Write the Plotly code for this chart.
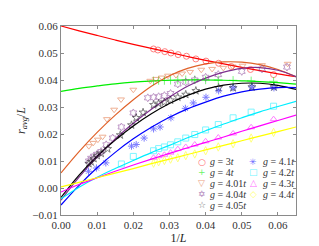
import plotly.graph_objects as go

# ---------------- data ----------------
FIT_X = [0.0, 0.005, 0.01, 0.015, 0.02, 0.025, 0.03, 0.035, 0.04, 0.045, 0.05, 0.055, 0.06, 0.065]

# g = 3t
G30_X = [0.0256, 0.0268, 0.0287, 0.0304, 0.0324, 0.0347, 0.0373, 0.0401, 0.0436, 0.0471, 0.0524, 0.0588]
G30_Y = [0.0515, 0.0511, 0.0505, 0.0500, 0.0494, 0.0488, 0.0478, 0.0470, 0.0462, 0.0450, 0.0439, 0.0420]
G30_FIT = [0.0600, 0.0582, 0.0565, 0.0548, 0.0532, 0.0517, 0.0502, 0.0487, 0.0473, 0.0460, 0.0447, 0.0435, 0.0423, 0.0412]

# g = 4t
G40_X = [0.0256, 0.0270, 0.0286, 0.0303, 0.0323, 0.0345, 0.0370, 0.0400, 0.0435, 0.0476, 0.0526, 0.0588]
G40_Y = [0.0397, 0.0398, 0.0398, 0.0399, 0.0400, 0.0401, 0.0401, 0.0400, 0.0400, 0.0399, 0.0397, 0.0395]
G40_FIT = [0.0358, 0.0369, 0.0378, 0.0386, 0.0392, 0.0396, 0.0399, 0.0400, 0.0400, 0.0399, 0.0397, 0.0394, 0.0390, 0.0385]

# g = 4.01t
G401_X = [0.0077, 0.0089, 0.0102, 0.0115, 0.0127, 0.0147, 0.0166, 0.0200, 0.0247, 0.0262, 0.0279, 0.0296,
          0.0318, 0.0335, 0.0357, 0.0388, 0.0418, 0.0449, 0.0475, 0.0502, 0.0556, 0.0627]
G401_Y = [0.0155, 0.0167, 0.0179, 0.0190, 0.0255, 0.0290, 0.0328, 0.0364, 0.0397, 0.0404, 0.0409, 0.0416,
          0.0418, 0.0424, 0.0430, 0.0438, 0.0441, 0.0445, 0.0450, 0.0453, 0.0455, 0.0460]
G401_FIT = [0.0056, 0.0135, 0.0206, 0.0270, 0.0327, 0.0377, 0.0416, 0.0443, 0.0460, 0.0467, 0.0466, 0.0457, 0.0439, 0.0412]

# g = 4.04t
G404_X = [0.0077, 0.0083, 0.0091, 0.0100, 0.0111, 0.0125, 0.0143, 0.0167, 0.0200, 0.0240, 0.0256, 0.0270,
          0.0286, 0.0303, 0.0323, 0.0345, 0.0370, 0.0400, 0.0435, 0.0500, 0.0556, 0.0625]
G404_Y = [0.0100, 0.0110, 0.0118, 0.0125, 0.0135, 0.0160, 0.0185, 0.0226, 0.0278, 0.0334, 0.0336, 0.0338,
          0.0342, 0.0350, 0.0385, 0.0392, 0.0400, 0.0410, 0.0420, 0.0432, 0.0441, 0.0448]
G404_FIT = [-0.0045, 0.0040, 0.0115, 0.0182, 0.0240, 0.0292, 0.0337, 0.0377, 0.0407, 0.0429, 0.0443, 0.0446, 0.0436, 0.0412]

# g = 4.05t
G405_X = [0.0077, 0.0083, 0.0091, 0.0100, 0.0111, 0.0129, 0.0164, 0.0195, 0.0208, 0.0227, 0.0256, 0.0270,
          0.0286, 0.0303, 0.0323, 0.0345, 0.0373, 0.0436, 0.0476, 0.0528, 0.0589]
G405_Y = [0.0090, 0.0097, 0.0109, 0.0120, 0.0128, 0.0145, 0.0196, 0.0233, 0.0260, 0.0280, 0.0308, 0.0313,
          0.0318, 0.0325, 0.0336, 0.0346, 0.0360, 0.0371, 0.0371, 0.0374, 0.0374]
G405_FIT = [-0.0035, 0.0048, 0.0118, 0.0178, 0.0230, 0.0275, 0.0313, 0.0343, 0.0366, 0.0381, 0.0388, 0.0388, 0.0380, 0.0365]

# g = 4.1t
G41_X = [0.0076, 0.0098, 0.0124, 0.0195, 0.0208, 0.0230, 0.0256, 0.0274, 0.0304, 0.0344, 0.0366, 0.0401,
         0.0436, 0.0476, 0.0528, 0.0589]
G41_Y = [0.0062, 0.0074, 0.0093, 0.0155, 0.0161, 0.0185, 0.0219, 0.0226, 0.0260, 0.0295, 0.0315, 0.0336,
         0.0360, 0.0371, 0.0374, 0.0371]
G41_FIT = [-0.0063, 0.0010, 0.0075, 0.0132, 0.0182, 0.0225, 0.0262, 0.0293, 0.0318, 0.0340, 0.0356, 0.0366, 0.0372, 0.0372]

# g = 4.2t
G42_X = [0.0167, 0.0200, 0.0256, 0.0270, 0.0286, 0.0303, 0.0323, 0.0345, 0.0370, 0.0400, 0.0435, 0.0476, 0.0526, 0.0588]
G42_Y = [0.0089, 0.0117, 0.0138, 0.0146, 0.0152, 0.0160, 0.0171, 0.0185, 0.0198, 0.0215, 0.0235, 0.0260, 0.0281, 0.0303]
G42_FIT = [-0.0040, 0.0003, 0.0040, 0.0072, 0.0102, 0.0131, 0.0158, 0.0186, 0.0212, 0.0237, 0.0260, 0.0282, 0.0302, 0.0321]

# g = 4.3t
G43_X = [0.0256, 0.0270, 0.0286, 0.0303, 0.0323, 0.0345, 0.0370, 0.0400, 0.0435, 0.0476, 0.0526, 0.0588]
G43_Y = [0.0112, 0.0118, 0.0123, 0.0131, 0.0144, 0.0152, 0.0161, 0.0173, 0.0187, 0.0202, 0.0225, 0.0255]
G43_FIT = [-0.0015, 0.0013, 0.0038, 0.0062, 0.0085, 0.0107, 0.0128, 0.0149, 0.0169, 0.0189, 0.0210, 0.0230, 0.0250, 0.0270]

# g = 4.4t
G44_X = [0.0256, 0.0270, 0.0286, 0.0303, 0.0323, 0.0345, 0.0370, 0.0400, 0.0435, 0.0476, 0.0526, 0.0588]
G44_Y = [0.0092, 0.0097, 0.0102, 0.0107, 0.0112, 0.0120, 0.0126, 0.0138, 0.0152, 0.0164, 0.0185, 0.0206]
G44_FIT = [0.0004, 0.0021, 0.0038, 0.0055, 0.0072, 0.0090, 0.0107, 0.0124, 0.0141, 0.0158, 0.0175, 0.0192, 0.0209, 0.0226]

LABELS = ["<i>g</i> = 3<i>t</i>", "<i>g</i> = 4<i>t</i>", "<i>g</i> = 4.01<i>t</i>", "<i>g</i> = 4.04<i>t</i>",
          "<i>g</i> = 4.05<i>t</i>", "<i>g</i> = 4.1<i>t</i>", "<i>g</i> = 4.2<i>t</i>", "<i>g</i> = 4.3<i>t</i>",
          "<i>g</i> = 4.4<i>t</i>"]
X_TICKS = [0.0, 0.01, 0.02, 0.03, 0.04, 0.05, 0.06]
Y_TICKS = [-0.01, 0.0, 0.01, 0.02, 0.03, 0.04, 0.05, 0.06]

# ---------------- styling ----------------
SERIF = "Liberation Serif, Times New Roman, serif"
series = [
    (G30_X, G30_Y, G30_FIT, "#ff0000", "circle-open", "\u25CB"),
    (G40_X, G40_Y, G40_FIT, "#00ee00", "cross-thin-open", "+"),
    (G401_X, G401_Y, G401_FIT, "#e0622a", "triangle-down-open", "\u25BD"),
    (G404_X, G404_Y, G404_FIT, "#7e2f8e", "hexagram-open", "\u2721"),
    (G405_X, G405_Y, G405_FIT, "#000000", "star-open", "\u2606"),
    (G41_X, G41_Y, G41_FIT, "#0000ff", "asterisk-open", "\u2733"),
    (G42_X, G42_Y, G42_FIT, "#00eeff", "square-open", "\u25A1"),
    (G43_X, G43_Y, G43_FIT, "#ff00ff", "triangle-up-open", "\u25B3"),
    (G44_X, G44_Y, G44_FIT, "#ffff00", "diamond-tall-open", "\u25C7"),
]

fig = go.Figure()
for xs, ys, fit, col, sym, glyph in series:
    fig.add_trace(go.Scatter(x=FIT_X, y=fit, mode="lines", line=dict(color=col, width=1.2, shape="spline"),
                             showlegend=False, hoverinfo="skip"))
for xs, ys, fit, col, sym, glyph in series:
    fig.add_trace(go.Scatter(x=xs, y=ys, mode="markers", opacity=0.5,
                             marker=dict(symbol=sym, size=6, color=col, line=dict(color=col, width=1)),
                             showlegend=False))

# legend drawn as text (two columns)
rows_y = [0.2815, 0.225, 0.1675, 0.11, 0.0525]
col_sym_x = [0.599, 0.818]
col_txt_x = [0.627, 0.849]
for i, (s, lab) in enumerate(zip(series, LABELS)):
    c = 0 if i < 5 else 1
    r = i if i < 5 else i - 5
    col = s[3]
    fig.add_annotation(x=col_sym_x[c], y=rows_y[r], xref="paper", yref="paper", text=s[5], showarrow=False,
                       xanchor="center", yanchor="middle", opacity=0.6,
                       font=dict(family="DejaVu Sans", size=9, color=col))
    fig.add_annotation(x=col_txt_x[c], y=rows_y[r], xref="paper", yref="paper", text=lab, showarrow=False,
                       xanchor="left", yanchor="middle",
                       font=dict(family=SERIF, size=10, color="#333333"))

axis_common = dict(showline=True, linecolor="#8a8a8a", linewidth=1, mirror="ticks", ticks="inside",
                   ticklen=3, tickcolor="#8a8a8a", showgrid=False, zeroline=False,
                   tickfont=dict(family=SERIF, size=11, color="#333333"),
                   tickformat=".2f")
fig.update_xaxes(range=[0, 0.065], tickvals=X_TICKS, **axis_common,
                 title=dict(text="1/<i>L</i>", font=dict(family=SERIF, size=12, color="#222222"),
                            standoff=2))
fig.update_yaxes(range=[-0.01, 0.06], tickvals=Y_TICKS, **axis_common,
                 title=dict(text="<i>r</i><sub><i>avg</i></sub>/<i>L</i>",
                            font=dict(family=SERIF, size=12, color="#222222"), standoff=4))
fig.update_layout(width=319, height=246, margin=dict(l=41, r=31, t=18, b=28),
                  plot_bgcolor="white", paper_bgcolor="white", showlegend=False)
fig.write_html("out.html")
